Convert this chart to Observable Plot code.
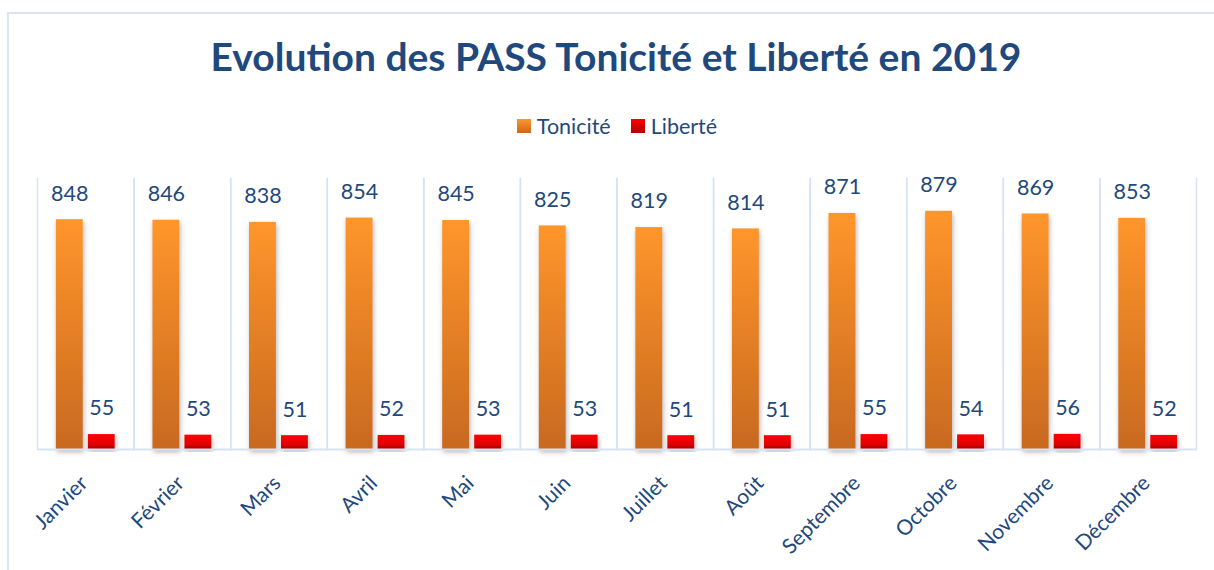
<!DOCTYPE html>
<html><head><meta charset="utf-8">
<script src="https://cdn.jsdelivr.net/npm/d3@7"></script>
<script src="https://cdn.jsdelivr.net/npm/@observablehq/plot@0.6"></script>
<style>
body{margin:0;background:#fff;font-family:Lato,"Open Sans",sans-serif;}
#wrap{position:relative;width:1214px;height:570px;overflow:hidden;}
#border{position:absolute;left:7px;top:12px;width:1400px;height:700px;border-left:2px solid #DAE5F3;border-top:2px solid #DAE5F3;}
#title{position:absolute;left:0;top:33px;width:1232px;text-align:center;font-weight:700;font-size:39px;color:#1F497D;line-height:46px;white-space:nowrap;}
#legend{position:absolute;top:113px;left:10px;width:1214px;display:flex;justify-content:center;align-items:center;font-size:21.5px;color:#1F497D;}
#legend .it{display:flex;align-items:center;margin:0 10px;}
#legend .sw{width:14px;height:14px;margin-right:6px;}
#chart{position:absolute;left:0;top:150px;}
</style></head>
<body>
<div id="wrap">
<div id="border"></div>
<div id="title">Evolution des PASS Tonicité et Liberté en 2019</div>
<div id="legend">
<div class="it"><div class="sw" style="background:linear-gradient(#FF962B,#C8691F)"></div>Tonicité</div>
<div class="it"><div class="sw" style="background:linear-gradient(#FF0000,#B00000)"></div>Liberté</div>
</div>
<div id="chart"></div>
</div>
<script>
const months = ["Janvier","Février","Mars","Avril","Mai","Juin","Juillet","Août","Septembre","Octobre","Novembre","Décembre"];
const series = ["Tonicité","Liberté"];
const tonicite = [848,846,838,854,845,825,819,814,871,879,869,853];
const liberte = [55,53,51,52,53,53,51,51,55,54,56,52];

const data = [];
months.forEach((m,i)=>{
  data.push({month:m, series:"Tonicité", value:tonicite[i]});
  data.push({month:m, series:"Liberté", value:liberte[i]});
});

const textColor = "#1F497D";
const gridColor = "#D7E3F3";

const plot = Plot.plot({
  width: 1214,
  height: 420,
  marginLeft: 37,
  marginRight: 18,
  marginTop: 28,
  marginBottom: 121,
  style: {fontFamily: "Lato, 'Open Sans', sans-serif", background: "transparent"},
  fx: {domain: months, padding: 0, round: false, axis: null},
  x: {domain: series, paddingInner: 0.16, paddingOuter: 0.59, round: false, axis: null},
  y: {domain: [0, 1000], axis: null},
  marks: [
    Plot.frame({anchor: "left", stroke: gridColor, strokeWidth: 1.5}),
    Plot.frame({anchor: "right", stroke: gridColor, strokeWidth: 1.5}),
    Plot.barY(data, {fx: "month", x: "series", y: "value",
      fill: d => d.series === "Tonicité" ? "url(#gOrange)" : "url(#gRed)"}),
    Plot.ruleY([0], {stroke: gridColor, strokeWidth: 2}),
    Plot.text(data, {fx: "month", x: "series", y: "value", text: d => String(d.value),
      dy: -26, fontSize: 21.5, fill: textColor}),
    Plot.text(months, {fx: d => d, frameAnchor: "bottom", text: d => d, rotate: -45,
      textAnchor: "end", dx: 3, dy: 35, fontSize: 21, fill: textColor})
  ]
});

const svg = d3.select(plot);
const defs = svg.insert("defs", ":first-child");
const go = defs.append("linearGradient").attr("id","gOrange").attr("x1",0).attr("y1",0).attr("x2",0).attr("y2",1);
go.append("stop").attr("offset","0%").attr("stop-color","#FF962B");
go.append("stop").attr("offset","100%").attr("stop-color","#C8691F");
const gr = defs.append("linearGradient").attr("id","gRed").attr("x1",0).attr("y1",0).attr("x2",0).attr("y2",1);
gr.append("stop").attr("offset","0%").attr("stop-color","#FF0000");
gr.append("stop").attr("offset","70%").attr("stop-color","#E00000");
gr.append("stop").attr("offset","100%").attr("stop-color","#A00000");
const f = defs.append("filter").attr("id","shadow").attr("x","-30%").attr("y","-10%").attr("width","160%").attr("height","130%");
f.append("feDropShadow").attr("dx",1).attr("dy",3).attr("stdDeviation",2.5).attr("flood-color","#555").attr("flood-opacity",0.45);
svg.selectAll("g[aria-label=bar] rect").attr("filter","url(#shadow)");

document.getElementById("chart").appendChild(plot);
</script>
</body></html>
